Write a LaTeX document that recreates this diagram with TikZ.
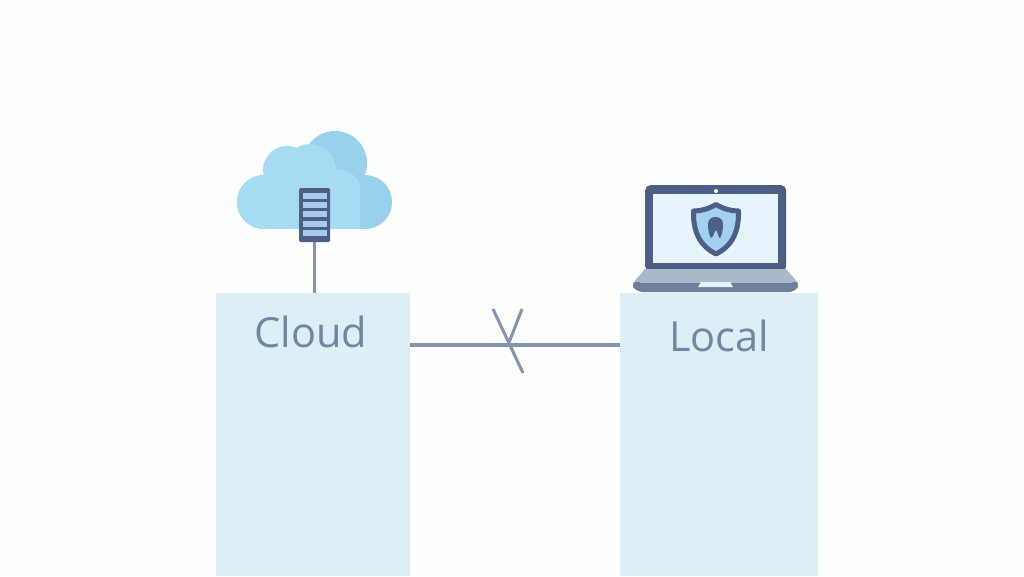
\documentclass[tikz,border=0pt]{standalone}
\usepackage{fontspec}
\setmainfont{Open Sans}
\usepackage{tikz}
\usetikzlibrary{positioning,calc}
\definecolor{paper}{HTML}{FDFEFE}
\definecolor{panelblue}{HTML}{DCEEF6}
\definecolor{labelgrey}{HTML}{7285A2}
\definecolor{linegrey}{HTML}{8594AE}
\definecolor{navy}{HTML}{4D5F85}
\definecolor{slotblue}{HTML}{A6CBEC}
\definecolor{clouddark}{HTML}{98D1EB}
\definecolor{cloudlight}{HTML}{A6DCF3}
\definecolor{screenblue}{HTML}{E8F4FB}
\definecolor{shieldblue}{HTML}{A3D0EE}
\definecolor{basegrey}{HTML}{ABB7CA}
\definecolor{basedark}{HTML}{6F7F9C}
\tikzset{
	panel/.style={fill=panelblue,anchor=north west,inner sep=0pt},
	panellabel/.style={text=labelgrey,font=\fontsize{41.5}{50}\selectfont},
	link/.style={draw=linegrey,line width=4pt},
	tick/.style={draw=linegrey,line width=3pt},
}
\begin{document}
\begin{tikzpicture}[x=1pt,y=-1pt]
		\fill[paper] (0,0) rectangle (1024,576);
		\useasboundingbox (0,0) rectangle (1024,576);

		\node[panel,minimum width=194pt,minimum height=283pt] (cloudpanel) at (216,293) {};
		\node[panel,minimum width=198pt,minimum height=283pt] (localpanel) at (620,293) {};
		\node[panellabel] (cloudlabel) at (311,332) {Cloud};
		\node[panellabel] (locallabel) at (719,336) {Local};

		\fill[clouddark] (264,202) circle (27);
		\fill[clouddark] (365,202) circle (27);
		\fill[clouddark] (335,163) circle (32);
		\fill[clouddark] (264,190) rectangle (365,229);
		\begin{scope}
			\clip (237,120) rectangle (360,229);
			\fill[cloudlight] (264,202) circle (27);
			\fill[cloudlight] (287,170) circle (24);
			\fill[cloudlight] (310,170) circle (26);
			\fill[cloudlight] (338,192) circle (23);
			\fill[cloudlight] (264,185) rectangle (338,229);
			\fill[cloudlight] (338,192) rectangle (361,229);
		\end{scope}

		\node[fill=navy,rounded corners=1.5pt,minimum width=31pt,minimum height=54pt,inner sep=0pt] (server) at (314.5,215) {};
		\foreach \y in {196,205,214,224,233}
			\fill[slotblue] (302.5,\y-3) rectangle (326.5,\y+3);
		\draw[draw=linegrey,line width=3pt] (server.south) -- (cloudpanel.north -| server.south);

		\coordinate (cloudport) at (cloudpanel.east |- 0,345);
		\coordinate (localport) at (localpanel.west |- 0,345);
		\coordinate (cross) at (508,345);
		\coordinate (tickA) at (493,309);
		\coordinate (tickB) at (523,373);
		\coordinate (tickC) at (522,309);
		\draw[link] (cloudport)--(localport);
		\draw[tick] (tickA)--(tickB);
		\draw[tick] (tickC)--(cross);

		\node[fill=navy,rounded corners=5pt,anchor=north west,minimum width=141pt,minimum height=86pt,inner sep=0pt] (laptop) at (645,185) {};
		\node[fill=screenblue,anchor=north west,minimum width=125pt,minimum height=69pt,inner sep=0pt] (screen) at (653,194) {};
		\fill[white] (716,191) circle (2);
		\fill[basegrey] (645,269) -- (786,269) -- (798,283) -- (798,288) -- (633,288) -- (633,283) -- cycle;
		\fill[basedark,rounded corners=3pt] (633,282) -- (798,282) -- (798,288) -- (792,292) -- (640,292) -- (633,288) -- cycle;
		\fill[basegrey] (640,281) rectangle (792,282.5);
		\fill[screenblue] (701,282) -- (730,282) -- (733,287) -- (698,287) -- cycle;
		\draw[fill=shieldblue,draw=navy,line width=5pt,line join=round] (716,204.5) .. controls (708,209) and (701,211) .. (693.5,211) .. controls (693,232) and (700,246) .. (716,254) .. controls (732,246) and (739,232) .. (738.5,211) .. controls (731,211) and (724,209) .. (716,204.5) -- cycle;
		\fill[navy] (708,224) .. controls (708,219) and (712,217) .. (715.5,217) .. controls (719,217) and (723,219) .. (723,224) .. controls (723,230) and (722,235) .. (720,238) .. controls (718,238) and (718,232) .. (716,230) .. controls (714,232) and (713,238) .. (711,238) .. controls (709,235) and (708,230) .. (708,224) -- cycle;
	\end{tikzpicture}
\end{document}
